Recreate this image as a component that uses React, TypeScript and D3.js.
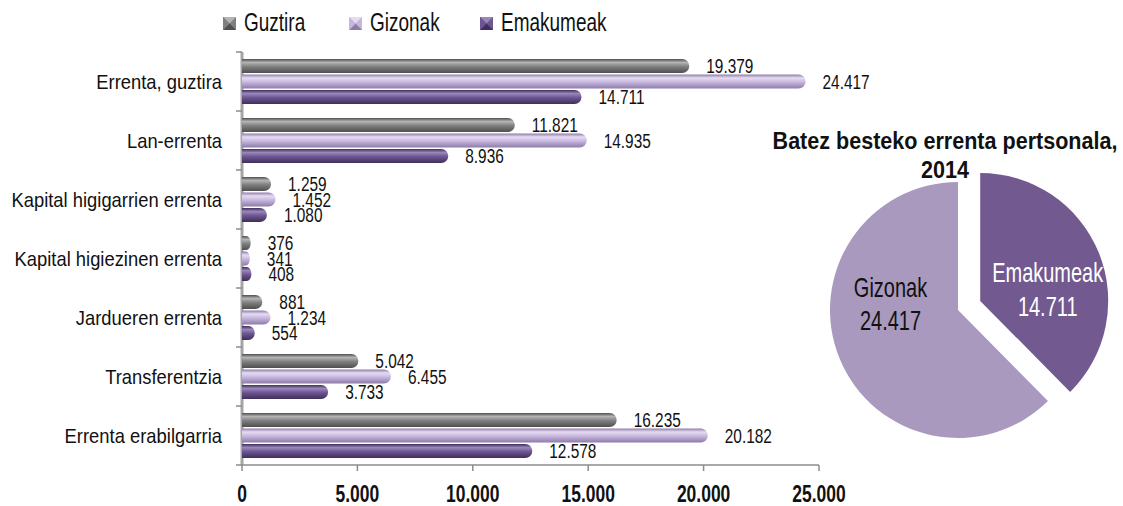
import * as d3 from "d3";
import { useEffect, useRef } from "react";

const categories = [
  "Errenta, guztira",
  "Lan-errenta",
  "Kapital higigarrien errenta",
  "Kapital higiezinen errenta",
  "Jardueren errenta",
  "Transferentzia",
  "Errenta erabilgarria",
];
const seriesNames = ["Guztira", "Gizonak", "Emakumeak"];
const guztira = [19379, 11821, 1259, 376, 881, 5042, 16235];
const gizonak = [24417, 14935, 1452, 341, 1234, 6455, 20182];
const emakumeak = [14711, 8936, 1080, 408, 554, 3733, 12578];
const xTicks = [0, 5000, 10000, 15000, 20000, 25000];

const pieTitle = ["Batez besteko errenta pertsonala,", "2014"];
const pieNames = ["Emakumeak", "Gizonak"];
const pieValues = [14711, 24417];

const FONT = "'Liberation Sans', Arial, sans-serif";
const colors = [
  { base: "#7f7f7f", light: "#b4b4b4", dark: "#4f4f4f" },
  { base: "#c6b6de", light: "#e6dcf2", dark: "#8e7ba9" },
  { base: "#6c5591", light: "#9a86bb", dark: "#3f2f5a" },
];
const pieColors = ["#72598f", "#a999bf"];

const fmt = (v: number) => d3.format(",")(v).replace(/,/g, ".");

// condensed-looking text: no condensed face is installed, so squeeze horizontally
function label(
  parent: d3.Selection<any, unknown, null, undefined>,
  x: number,
  y: number,
  str: string,
  opts: { size: number; sx: number; anchor?: string; weight?: string; fill?: string }
) {
  parent
    .append("g")
    .attr("transform", `translate(${x},${y}) scale(${opts.sx},1)`)
    .append("text")
    .attr("text-anchor", opts.anchor || "start")
    .attr("font-size", opts.size)
    .attr("font-weight", opts.weight || "normal")
    .attr("fill", opts.fill || "#111")
    .text(str);
}

export default function App() {
  const ref = useRef<SVGSVGElement>(null);

  useEffect(() => {
    const width = 1123;
    const height = 506;
    const svg = d3.select(ref.current).attr("width", width).attr("height", height);
    svg.selectAll("*").remove();
    svg.style("font-family", FONT);

    const defs = svg.append("defs");
    colors.forEach((c, i) => {
      const g = defs
        .append("linearGradient")
        .attr("id", `bar${i}`)
        .attr("x1", 0)
        .attr("y1", 0)
        .attr("x2", 0)
        .attr("y2", 1);
      g.append("stop").attr("offset", "0%").attr("stop-color", c.dark);
      g.append("stop").attr("offset", "25%").attr("stop-color", c.light);
      g.append("stop").attr("offset", "55%").attr("stop-color", c.base);
      g.append("stop").attr("offset", "100%").attr("stop-color", c.dark);
    });

    const margin = { left: 242, top: 52, right: 304, bottom: 41 };
    const w = width - margin.left - margin.right;
    const h = height - margin.top - margin.bottom;

    const x = d3.scaleLinear().domain([0, 25000]).range([0, w]);
    const y = d3.scaleBand().domain(categories).range([0, h]);
    const series = [guztira, gizonak, emakumeak];
    const inner = d3
      .scaleBand<number>()
      .domain([0, 1, 2])
      .range([7, y.bandwidth() - 7])
      .paddingInner(0.1);

    const g = svg.append("g").attr("transform", `translate(${margin.left},${margin.top})`);

    // legend
    const legX = [223, 349, 480];
    seriesNames.forEach((name, i) => {
      const lg = svg.append("g").attr("transform", `translate(${legX[i]},17)`);
      lg.append("rect").attr("width", 13).attr("height", 13).attr("fill", colors[i].base);
      lg.append("path").attr("d", "M0,0 L13,0 L6.5,6.5 Z").attr("fill", colors[i].light);
      lg.append("path").attr("d", "M0,13 L13,13 L6.5,6.5 Z").attr("fill", colors[i].dark);
      lg.append("path").attr("d", "M0,0 L6.5,6.5 L0,13 Z").attr("fill", colors[i].base);
      label(lg, 21, 14, name, { size: 25, sx: 0.76 });
    });

    // y axis wall
    g.append("line")
      .attr("x1", 0)
      .attr("x2", 0)
      .attr("y1", 0)
      .attr("y2", h)
      .attr("stroke", "#a6a6a6")
      .attr("stroke-width", 3);
    const yTicks = categories.map((c) => y(c) as number).concat([h]);
    yTicks.forEach((yy) => {
      g.append("line")
        .attr("x1", -6)
        .attr("x2", 0)
        .attr("y1", yy)
        .attr("y2", yy)
        .attr("stroke", "#8c8c8c")
        .attr("stroke-width", 1.5);
    });

    // x axis
    g.append("line")
      .attr("x1", 0)
      .attr("x2", w)
      .attr("y1", h)
      .attr("y2", h)
      .attr("stroke", "#8c8c8c")
      .attr("stroke-width", 1.5);
    xTicks.forEach((t) => {
      g.append("line")
        .attr("x1", x(t))
        .attr("x2", x(t))
        .attr("y1", h)
        .attr("y2", h + 6)
        .attr("stroke", "#8c8c8c")
        .attr("stroke-width", 1.5);
      label(g, x(t), h + 37, fmt(t), { size: 23, sx: 0.76, anchor: "middle", weight: "bold" });
    });

    // category labels
    categories.forEach((c) => {
      label(g, -20, (y(c) as number) + y.bandwidth() / 2 + 7, c, { size: 20, sx: 0.92, anchor: "end" });
    });

    // bars
    series.forEach((vals, si) => {
      categories.forEach((c, ci) => {
        const by = (y(c) as number) + (inner(si) as number);
        const bh = inner.bandwidth();
        const bw = x(vals[ci]);
        const r = Math.min(bh / 2, bw / 2);
        const path = `M0,${by} L${bw - r},${by} A${r},${bh / 2} 0 0 1 ${bw - r},${by + bh} L0,${by + bh} Z`;
        g.append("path").attr("d", path).attr("fill", `url(#bar${si})`);
        label(g, bw + 17, by + bh / 2 + 7, fmt(vals[ci]), { size: 19.5, sx: 0.79 });
      });
    });

    // pie
    const pcx = 958;
    const pcy = 310;
    const R = 128;
    const pie = d3.pie<number>().sort(null).value((d) => d);
    const arcs = pie(pieValues);
    const arc = d3.arc<d3.PieArcDatum<number>>().innerRadius(0).outerRadius(R);
    const pg = svg.append("g").attr("transform", `translate(${pcx},${pcy})`);
    arcs.forEach((a, i) => {
      const mid = (a.startAngle + a.endAngle) / 2;
      const off = i === 0 ? 24 : 0;
      const dx = Math.sin(mid) * off;
      const dy = -Math.cos(mid) * off;
      const sg = pg.append("g").attr("transform", `translate(${dx},${dy})`);
      sg.append("path").attr("d", arc(a) as string).attr("fill", pieColors[i]);
      const lx = Math.sin(mid) * R * 0.57;
      const tc = i === 0 ? "#ffffff" : "#111";
      label(sg, lx, i === 0 ? -19 : -13, pieNames[i], { size: 27, sx: 0.74, anchor: "middle", fill: tc });
      label(sg, lx, i === 0 ? 15 : 20, fmt(pieValues[i]), { size: 27, sx: 0.74, anchor: "middle", fill: tc });
    });

    pieTitle.forEach((t, i) => {
      label(svg as any, 945, 149 + i * 29, t, { size: 24.5, sx: 0.88, anchor: "middle", weight: "bold" });
    });
  }, []);

  return <svg ref={ref} style={{ position: "absolute", left: 0, top: 0 }}></svg>;
}
